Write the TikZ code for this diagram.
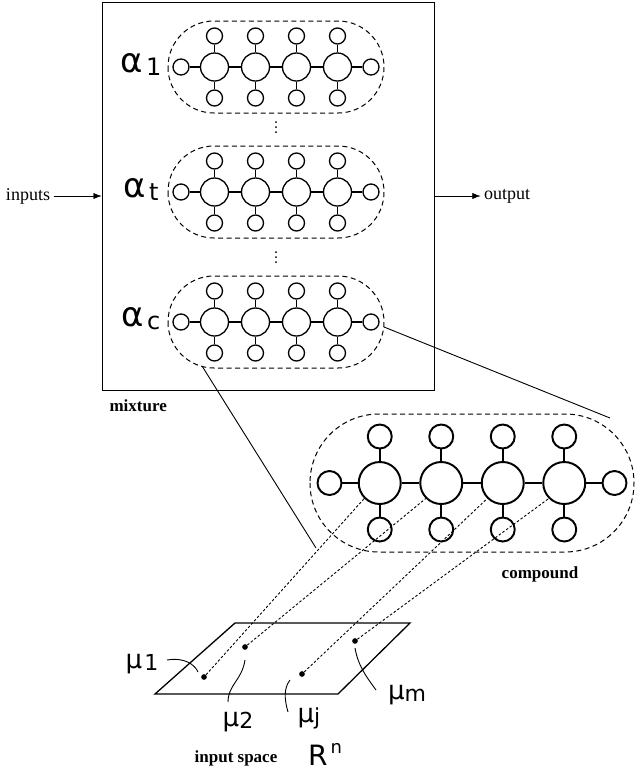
\documentclass[tikz,border=0pt]{standalone}
\usepackage{fontspec}
\setmainfont{Liberation Serif}
\newfontfamily\lab{DejaVu Sans}
\usetikzlibrary{arrows.meta}
\tikzset{
  big/.style={circle,draw,fill=white,inner sep=0pt},
  dotl/.style={dash pattern=on 2.5pt off 2pt,line width=0.9pt},
  lbl/.style={font=\lab\fontsize{34}{34}\selectfont,inner sep=0},
  ml/.style={font=\lab\fontsize{26}{26}\selectfont,inner sep=0},
  bold/.style={font=\bfseries\fontsize{17}{17}\selectfont},
}
\newcommand{\mycomp}[4]{% cx cy scale name
  \begin{scope}[shift={(#1,#2)},line width=#3*1.3pt]
  \draw[dash pattern=on 5pt off 3.5pt,line width=1pt,rounded corners=#3*45.9] (-108*#3,-46*#3) rectangle (108*#3,46*#3);
  \foreach \i/\x in {1/-61.5,2/-20.5,3/20.5,4/61.5}{
    \node[big,minimum size=#3*28] (#4b\i) at (\x*#3,0) {};
    \node[big,minimum size=#3*16] (#4t\i) at (\x*#3,-31*#3) {};
    \node[big,minimum size=#3*16] (#4u\i) at (\x*#3,31*#3) {};
    \draw (#4b\i) -- (#4t\i); \draw (#4b\i) -- (#4u\i);
  }
  \node[big,minimum size=#3*16] (#4l) at (-95*#3,0) {};
  \node[big,minimum size=#3*16] (#4r) at (95*#3,0) {};
  \draw (#4l)--(#4b1)--(#4b2)--(#4b3)--(#4b4)--(#4r);
  \end{scope}}
\begin{document}
\begin{tikzpicture}[x=1pt,y=-1pt]
\useasboundingbox (0,0) rectangle (640,772);
\node[draw,line width=1pt,minimum width=332,minimum height=388,inner sep=0] (mix) at (268,196) {};
\node[bold,anchor=west] (mixl) at (106,406) {mixture};
\mycomp{276}{67}{1}{A}
\mycomp{276}{192}{1}{T}
\mycomp{276}{322}{1}{C}
\node[lbl] (a1) at (141,64) {α\kern3pt\raisebox{-3pt}{\fontsize{24}{24}\selectfont 1}};
\node[lbl] (at) at (141,189) {α\kern3pt\raisebox{-3pt}{\fontsize{24}{24}\selectfont t}};
\node[lbl] (ac) at (141,319) {α\kern3pt\raisebox{-3pt}{\fontsize{24}{24}\selectfont c}};
\foreach \y in {122,127,132,252,257,262} \fill (276,\y) circle (1);
\node[font=\fontsize{18}{18}\selectfont] (in) at (28,196) {inputs};
\node[font=\fontsize{18}{18}\selectfont] (out) at (507,196) {output};
\draw[-{Latex[length=8pt]}] (in.east) -- (mix.west);
\draw[-{Latex[length=8pt]}] (mix.east) -- (out.west);
\mycomp{472}{483}{1.5}{L}
\node[bold] (cl) at (540,574) {compound};
\coordinate (s1) at (384,327); \coordinate (e1) at (610,418);
\coordinate (s2) at (202,366); \coordinate (e2) at (316,548);
\draw[line width=0.9pt] (s1) -- (e1);
\draw[line width=0.9pt] (s2) -- (e2);
% plane
\draw[line width=1.3pt] (155,694) -- (338,694) -- (410,623) -- (235,623) -- cycle;
\node[circle,fill,inner sep=2pt] (m1) at (204,677) {};
\node[circle,fill,inner sep=2pt] (m2) at (245,647) {};
\node[circle,fill,inner sep=2pt] (mj) at (302,674) {};
\node[circle,fill,inner sep=2pt] (mm) at (355,641) {};
\draw[dotl] (m1) -- (Lb1.225);
\draw[dotl] (m2) -- (Lb2.225);
\draw[dotl] (mj) -- (Lb3.225);
\draw[dotl] (mm) -- (Lb4.225);
\node[ml] (l1) at (142,664) {μ\kern2pt\raisebox{-2pt}{\fontsize{22}{22}\selectfont 1}};
\node[ml] (l2) at (238,722) {μ\raisebox{-2pt}{\fontsize{22}{22}\selectfont 2}};
\node[ml] (lj) at (309,718) {μ\raisebox{-2pt}{\fontsize{22}{22}\selectfont j}};
\node[ml] (lm) at (407,695) {μ\raisebox{-2pt}{\fontsize{22}{22}\selectfont m}};
\draw[line width=0.9pt] (167,660) .. controls (185,657) and (195,665) .. (198,672);
\draw[line width=0.9pt] (245,660) .. controls (242,680) and (228,685) .. (228,702);
\draw[line width=0.9pt] (290,680) .. controls (284,688) and (284,698) .. (288,712);
\draw[line width=0.9pt] (355,648) .. controls (358,665) and (365,675) .. (376,690);
\node[bold] (is) at (236,758) {input space};
\node[font=\lab\fontsize{28}{28}\selectfont] (rn) at (325,754) {R\raisebox{12pt}{\fontsize{18}{18}\selectfont\,n}};
\end{tikzpicture}
\end{document}
